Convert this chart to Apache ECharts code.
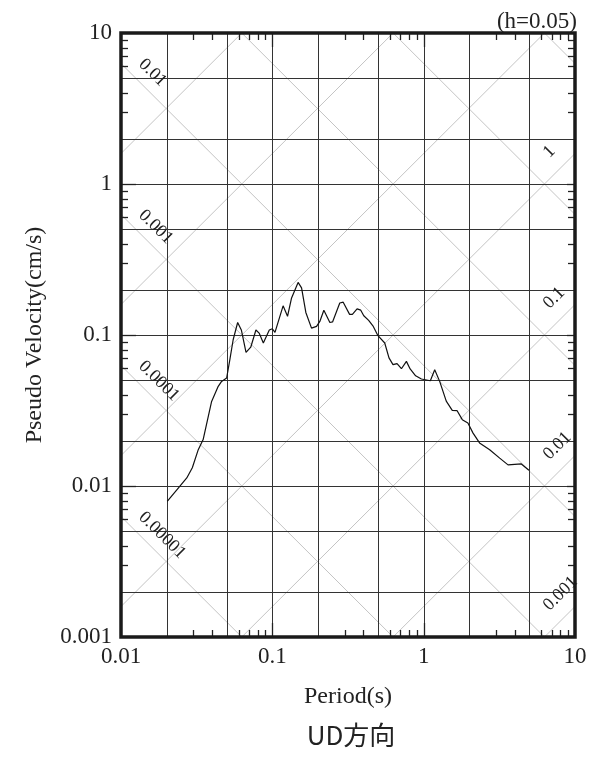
<!DOCTYPE html>
<html><head><meta charset="utf-8">
<script src="https://cdn.jsdelivr.net/npm/echarts@6/dist/echarts.min.js"></script>
<style>html,body{margin:0;padding:0;background:#fff}#c{width:603px;height:758px}</style>
</head><body><div id="c"></div>
<script>
// ---- data ----
const periods = [0.0202,0.0233,0.0272,0.0296,0.0324,0.0349,0.0397,0.0439,0.0462,0.0499,
  0.0524,0.0551,0.0590,0.0624,0.0670,0.0720,0.0779,0.0818,0.0872,0.0955,
  0.1000,0.1041,0.1178,0.126,0.134,0.148,0.156,0.1665,0.1815,0.196,
  0.206,0.219,0.240,0.250,0.279,0.294,0.324,0.338,0.363,0.384,
  0.402,0.433,0.462,0.499,0.553,0.590,0.627,0.667,0.713,0.769,
  0.814,0.885,0.966,1.107,1.183,1.276,1.41,1.545,1.66,1.80,
  1.96,2.12,2.34,2.73,3.18,3.61,4.42,4.96];
const velocities = [0.0079,0.0094,0.0113,0.0132,0.0174,0.0203,0.0363,0.0457,0.0493,0.0519,
  0.0686,0.093,0.121,0.108,0.0767,0.083,0.108,0.103,0.0886,0.108,
  0.110,0.104,0.156,0.133,0.176,0.223,0.205,0.141,0.111,0.114,
  0.123,0.146,0.121,0.122,0.163,0.165,0.137,0.137,0.149,0.146,
  0.134,0.125,0.115,0.099,0.0885,0.0705,0.0636,0.0647,0.0598,0.0669,
  0.0596,0.0537,0.0511,0.0498,0.0589,0.0493,0.0365,0.0317,0.0316,0.0275,
  0.0261,0.0224,0.0193,0.0174,0.0153,0.0138,0.0140,0.0127];

const xTickValues = [0.01, 0.1, 1, 10];
const xTickLabels = ['0.01', '0.1', '1', '10'];
const yTickValues = [0.001, 0.01, 0.1, 1, 10];
const yTickLabels = ['0.001', '0.01', '0.1', '1', '10'];
const gridMultipliers = [2, 5, 10];
const minorMultipliers = [3, 4, 6, 7, 8, 9];
// constant displacement lines (cm) and constant acceleration lines (gal)
const dispLineValues = [0.00001, 0.0001, 0.001, 0.01, 0.1, 1, 10];
const accLineValues = [0.001, 0.01, 0.1, 1, 10, 100, 1000];
const dispLabels = ['0.01', '0.001', '0.0001', '0.00001'];
const accLabels = ['1', '0.1', '0.01', '0.001'];
const dampingText = '(h=0.05)';
const xName = 'Period(s)';
const yName = 'Pseudo Velocity(cm/s)';
const captionText = 'UD方向';

// ---- build ----
const X_MIN = xTickValues[0], X_MAX = xTickValues[xTickValues.length - 1];
const Y_MIN = yTickValues[0], Y_MAX = yTickValues[yTickValues.length - 1];
const TWO_PI = 2 * Math.PI;
const SERIF = "'Liberation Serif', 'DejaVu Serif', serif";

function expand(decades, mults, lo, hi) {
  const out = [];
  decades.forEach(d => mults.forEach(m => {
    const v = Number((d * m).toPrecision(6));
    if (v > lo * 1.0001 && v < hi * 0.9999) out.push(v);
  }));
  return out;
}
const xGrid = expand(xTickValues, gridMultipliers, X_MIN, X_MAX);
const yGrid = expand(yTickValues, gridMultipliers, Y_MIN, Y_MAX);
const xMinor = expand(xTickValues, minorMultipliers, X_MIN, X_MAX);
const yMinor = expand(yTickValues, minorMultipliers, Y_MIN, Y_MAX);
const xMajor = xTickValues.slice(1, -1);
const yMajor = yTickValues.slice(1, -1);

function snap(v) { return Math.round(v) + 0.5; }

function gridSeries(vals, vertical) {
  return {
    type: 'custom', silent: true, z: 3, animation: false,
    data: vals.map(v => vertical ? [v, Y_MIN] : [X_MIN, v]),
    renderItem(params, api) {
      let p1, p2;
      if (vertical) { const x = api.value(0); p1 = api.coord([x, Y_MIN]); p2 = api.coord([x, Y_MAX]);
        const sx = snap(p1[0]); p1[0] = sx; p2[0] = sx; }
      else { const y = api.value(1); p1 = api.coord([X_MIN, y]); p2 = api.coord([X_MAX, y]);
        const sy = snap(p1[1]); p1[1] = sy; p2[1] = sy; }
      return { type: 'line', shape: { x1: p1[0], y1: p1[1], x2: p2[0], y2: p2[1] },
        style: { stroke: '#333', lineWidth: 1 } };
    }
  };
}

function tickSeries(vals, vertical, lenA, lenB) {
  return {
    type: 'custom', silent: true, z: 12, animation: false,
    data: vals.map(v => vertical ? [v, Y_MIN] : [X_MIN, v]),
    renderItem(params, api) {
      const children = [];
      if (vertical) {
        const x = api.value(0);
        const b = api.coord([x, Y_MIN]), t = api.coord([x, Y_MAX]);
        const sx = snap(b[0]);
        children.push({ type: 'line', shape: { x1: sx, y1: b[1], x2: sx, y2: b[1] - lenA }, style: { stroke: '#222', lineWidth: 1.3 } });
        children.push({ type: 'line', shape: { x1: sx, y1: t[1], x2: sx, y2: t[1] + lenB }, style: { stroke: '#222', lineWidth: 1.3 } });
      } else {
        const y = api.value(1);
        const l = api.coord([X_MIN, y]), r = api.coord([X_MAX, y]);
        const sy = snap(l[1]);
        children.push({ type: 'line', shape: { x1: l[0], y1: sy, x2: l[0] + lenA, y2: sy }, style: { stroke: '#222', lineWidth: 1.3 } });
        children.push({ type: 'line', shape: { x1: r[0], y1: sy, x2: r[0] - lenB, y2: sy }, style: { stroke: '#222', lineWidth: 1.3 } });
      }
      return { type: 'group', children };
    }
  };
}

// diagonal reference lines clipped to the plotting range
const diagSeries = [];
dispLineValues.forEach(D => {
  const c = TWO_PI * D; // V = c / T
  const t1 = Math.max(X_MIN, c / Y_MAX), t2 = Math.min(X_MAX, c / Y_MIN);
  if (t2 > t1) diagSeries.push({ type: 'line', silent: true, z: 2, symbol: 'none', animation: false,
    lineStyle: { color: '#c4c4c4', width: 1 }, data: [[t1, c / t1], [t2, c / t2]] });
});
accLineValues.forEach(A => {
  const k = A / TWO_PI; // V = k * T
  const t1 = Math.max(X_MIN, Y_MIN / k), t2 = Math.min(X_MAX, Y_MAX / k);
  if (t2 > t1) diagSeries.push({ type: 'line', silent: true, z: 2, symbol: 'none', animation: false,
    lineStyle: { color: '#c4c4c4', width: 1 }, data: [[t1, k * t1], [t2, k * t2]] });
});

const LEFT_FOOT_T = 0.01152, RIGHT_FOOT_T = 7.94;
const dispLabelSeries = {
  type: 'custom', silent: true, z: 8, animation: false,
  data: dispLabels.map(s => [LEFT_FOOT_T, TWO_PI * Number(s) / LEFT_FOOT_T]),
  renderItem(params, api) {
    const p = api.coord([api.value(0), api.value(1)]);
    const off = 15.8 / Math.SQRT2;
    return { type: 'text', x: p[0] + off, y: p[1] - off, rotation: -Math.PI / 4,
      style: { text: dispLabels[params.dataIndex], font: '18px ' + SERIF, fill: '#222',
        align: 'left', verticalAlign: 'middle' } };
  }
};
const accLabelSeries = {
  type: 'custom', silent: true, z: 8, animation: false,
  data: accLabels.map(s => [RIGHT_FOOT_T, Number(s) * RIGHT_FOOT_T / TWO_PI]),
  renderItem(params, api) {
    const p = api.coord([api.value(0), api.value(1)]);
    const off = 19.3 / Math.SQRT2;
    return { type: 'text', x: p[0] - off, y: p[1] - off, rotation: Math.PI / 4,
      style: { text: accLabels[params.dataIndex], font: '18px ' + SERIF, fill: '#222',
        align: 'left', verticalAlign: 'middle' } };
  }
};

function labelFor(values, labels) {
  return v => { for (let i = 0; i < values.length; i++) if (Math.abs(Math.log10(v) - Math.log10(values[i])) < 1e-6) return labels[i]; return ''; };
}

const chart = echarts.init(document.getElementById('c'), null, { renderer: 'canvas' });
chart.setOption({
  animation: false,
  backgroundColor: '#fff',
  title: { text: dampingText, right: 21, top: 5,
    textStyle: { fontFamily: SERIF, fontSize: 23, fontWeight: 'normal', color: '#222' } },
  grid: { left: 121, right: 28, top: 33, bottom: 121, show: true, borderColor: '#1a1a1a', borderWidth: 3.5, z: 20, backgroundColor: 'transparent' },
  xAxis: { type: 'log', logBase: 10, min: X_MIN, max: X_MAX,
    name: xName, nameLocation: 'middle', nameGap: 48,
    nameTextStyle: { fontFamily: SERIF, fontSize: 24, color: '#222' },
    axisLine: { show: false }, axisTick: { show: false }, splitLine: { show: false },
    axisLabel: { fontFamily: SERIF, fontSize: 23, color: '#222', margin: 8, formatter: labelFor(xTickValues, xTickLabels) } },
  yAxis: { type: 'log', logBase: 10, min: Y_MIN, max: Y_MAX,
    name: yName, nameLocation: 'middle', nameGap: 74,
    nameTextStyle: { fontFamily: SERIF, fontSize: 24, color: '#222' },
    axisLine: { show: false }, axisTick: { show: false }, splitLine: { show: false },
    axisLabel: { fontFamily: SERIF, fontSize: 23, color: '#222', margin: 9, formatter: labelFor(yTickValues, yTickLabels) } },
  graphic: [{ type: 'text', x: 351, y: 735, style: { text: captionText, font: "26px 'Noto Sans CJK JP'", fill: '#222',
    align: 'center', verticalAlign: 'middle', textAlign: 'center', textVerticalAlign: 'middle' } }],
  series: [
    ...diagSeries,
    gridSeries(xGrid, true),
    gridSeries(yGrid, false),
    tickSeries(xMinor, true, 7, 7),
    tickSeries(yMinor, false, 7, 7),
    tickSeries(xMajor, true, 14, 14),
    tickSeries(yMajor, false, 15, 8),
    dispLabelSeries,
    accLabelSeries,
    { type: 'line', z: 10, symbol: 'none', animation: false, silent: true,
      lineStyle: { color: '#111', width: 1.2 },
      data: periods.map((t, i) => [t, velocities[i]]) }
  ]
});
</script></body></html>
